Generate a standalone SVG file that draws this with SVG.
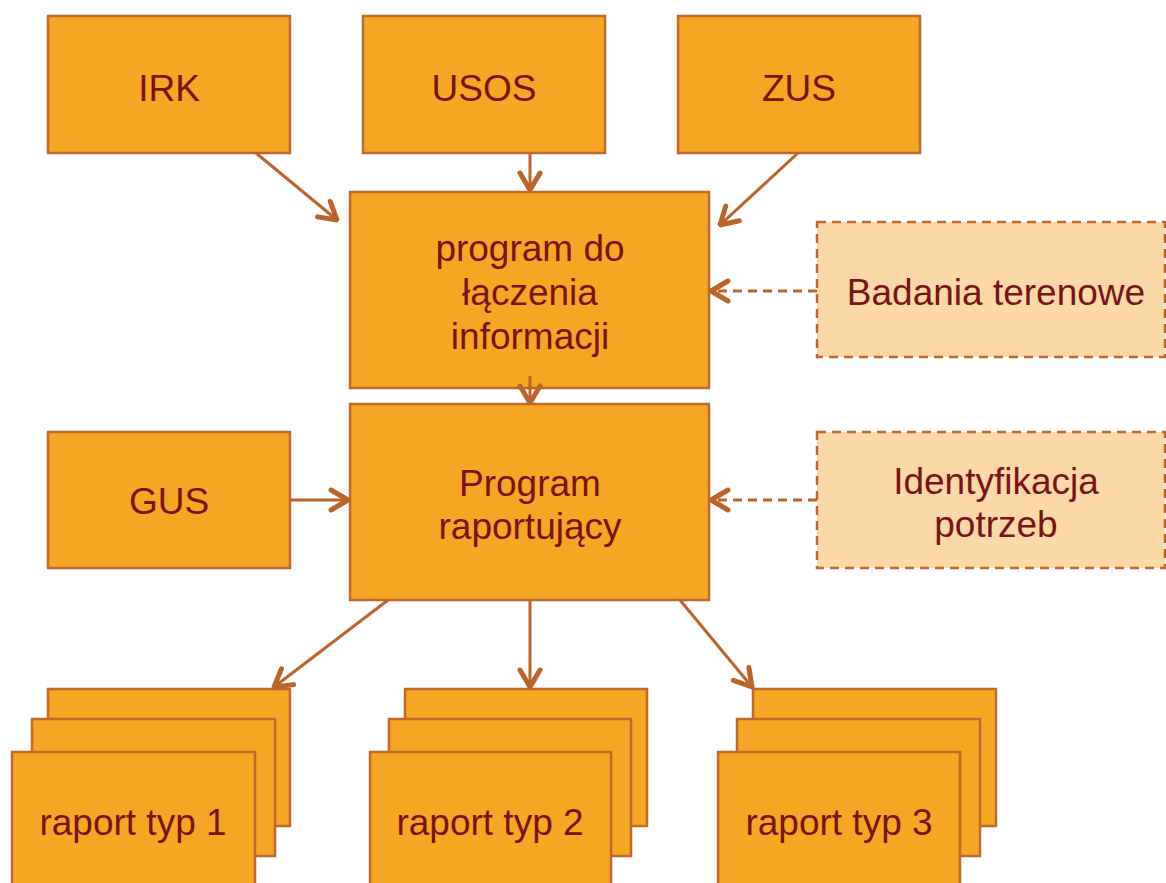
<svg xmlns="http://www.w3.org/2000/svg" width="1166" height="883" viewBox="0 0 1166 883">
<defs>
<style>
.box{fill:#F5A623;stroke:#C0692A;stroke-width:2.5}
.lt{fill:#FCD8A6;stroke:#C0692A;stroke-width:2.5;stroke-dasharray:9 6}
.t{font-family:"Liberation Sans",Arial,sans-serif;font-size:37px;fill:#7A1414;text-anchor:middle}
.c{stroke:#BC6429;stroke-width:3;fill:none}
.d{stroke:#BC6429;stroke-width:3;fill:none;stroke-dasharray:9 6}
</style>
<marker id="ah" viewBox="0 0 22 26" refX="20" refY="13" markerWidth="22" markerHeight="26" markerUnits="userSpaceOnUse" orient="auto">
<path d="M3,3 L20,13 L3,23" fill="none" stroke="#BC6429" stroke-width="5" stroke-linecap="round" stroke-linejoin="round"/>
</marker>
</defs>
<rect width="1166" height="883" fill="#fff"/>
<g id="irk"><rect class="box" x="48" y="16" width="242" height="137"/><text class="t" x="169" y="101">IRK</text></g>
<g id="usos"><rect class="box" x="363" y="16" width="242" height="137"/><text class="t" x="484" y="101">USOS</text></g>
<g id="zus"><rect class="box" x="678" y="16" width="242" height="137"/><text class="t" x="799" y="101">ZUS</text></g>
<g id="laczenie"><rect class="box" x="350" y="192" width="359" height="196"/><text class="t" x="530" y="261">program do</text><text class="t" x="530" y="305">łączenia</text><text class="t" x="530" y="349">informacji</text></g>
<g id="badania"><rect class="lt" x="817" y="222" width="348" height="135"/><text class="t" x="996" y="305">Badania terenowe</text></g>
<g id="raportujacy"><rect class="box" x="350" y="404" width="359" height="196"/><text class="t" x="530" y="496">Program</text><text class="t" x="530" y="539">raportujący</text></g>
<g id="gus"><rect class="box" x="48" y="432" width="242" height="136"/><text class="t" x="169" y="514">GUS</text></g>
<g id="identyfikacja"><rect class="lt" x="817" y="432" width="348" height="136"/><text class="t" x="996" y="494">Identyfikacja</text><text class="t" x="996" y="537">potrzeb</text></g>
<g id="raport1"><rect class="box" x="48" y="689" width="242" height="137"/><rect class="box" x="32" y="719" width="243" height="137"/><rect class="box" x="12" y="752" width="243" height="140"/><text class="t" x="133" y="835">raport typ 1</text></g>
<g id="raport2"><rect class="box" x="405" y="689" width="242" height="137"/><rect class="box" x="389" y="719" width="242" height="137"/><rect class="box" x="370" y="752" width="241" height="140"/><text class="t" x="490" y="835">raport typ 2</text></g>
<g id="raport3"><rect class="box" x="753" y="689" width="243" height="137"/><rect class="box" x="737" y="719" width="243" height="137"/><rect class="box" x="718" y="752" width="242" height="140"/><text class="t" x="839" y="835">raport typ 3</text></g>
<g id="connectors">
<line class="c" x1="256" y1="153" x2="337" y2="220" marker-end="url(#ah)"/>
<line class="c" x1="530" y1="153" x2="530" y2="190" marker-end="url(#ah)"/>
<line class="c" x1="798" y1="153" x2="720" y2="225" marker-end="url(#ah)"/>
<line class="d" x1="817" y1="291" x2="711" y2="291" marker-end="url(#ah)"/>
<line class="c" x1="530" y1="376" x2="530" y2="403" marker-end="url(#ah)"/>
<line class="c" x1="290" y1="500" x2="348" y2="500" marker-end="url(#ah)"/>
<line class="d" x1="817" y1="500" x2="711" y2="500" marker-end="url(#ah)"/>
<line class="c" x1="388" y1="600" x2="274" y2="687" marker-end="url(#ah)"/>
<line class="c" x1="530" y1="600" x2="530" y2="687" marker-end="url(#ah)"/>
<line class="c" x1="680" y1="600" x2="752" y2="687" marker-end="url(#ah)"/>
</g>
</svg>
